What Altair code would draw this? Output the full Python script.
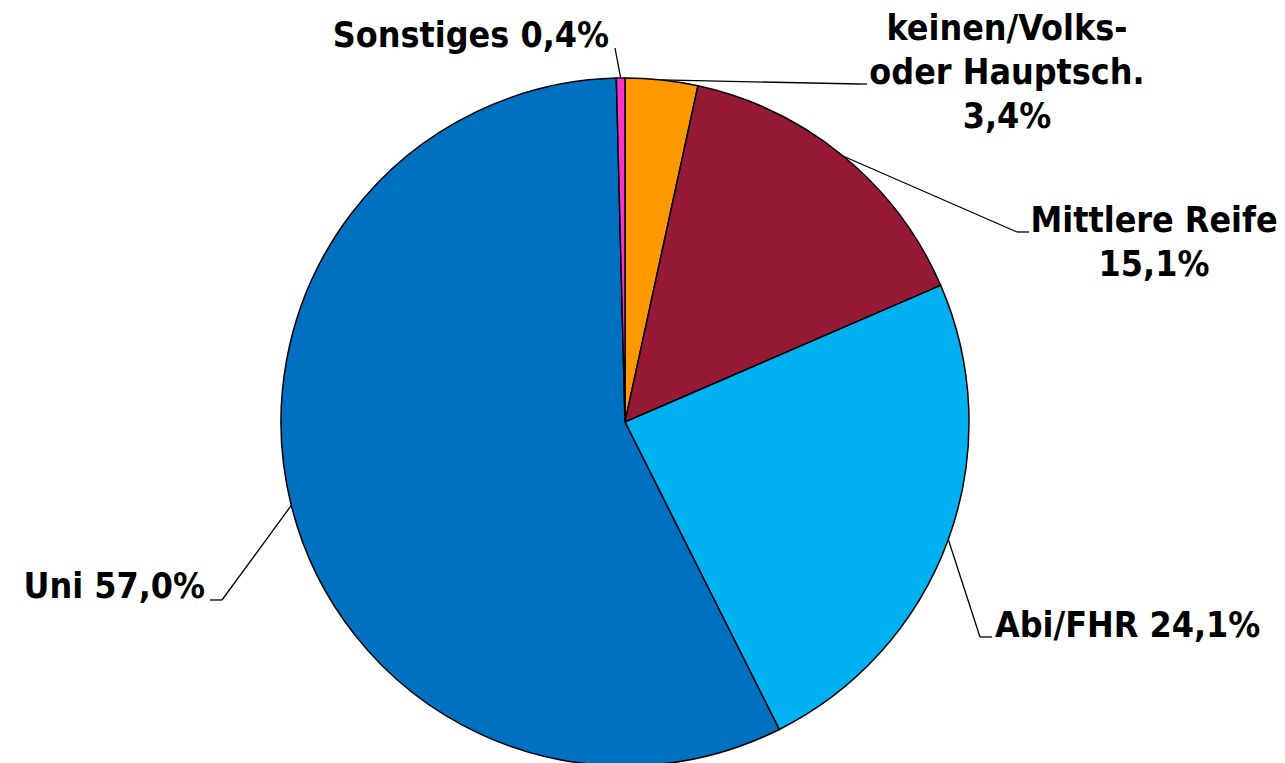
import altair as alt
import pandas as pd

# ---- data ----
names = ["keinen/Volks-\noder Hauptsch.", "Mittlere Reife", "Abi/FHR", "Uni", "Sonstiges"]
shares = [3.4, 15.1, 24.1, 57.0, 0.4]
sep = ["\n", "\n", " ", " ", " "]
colors = ["#FF9900", "#961A36", "#00B0F0", "#0070C0", "#FF33CC"]

# ---- label layout (page pixels) ----
label_x = [1007, 1154, 995, 205, 609]
label_y = [40, 232, 637, 598, 47]
label_align = ["center", "center", "left", "right", "right"]
elbow_x = [860, 1017, 980, 222, 615]
elbow_y = [84, 232, 637, 600, 48]
end_x = [867, 1029, 992, 210, 615]
end_y = [84, 232, 637, 600, 48]

W, H = 1269, 760
CX, CY, R = 625, 422, 344
FONT = "DejaVu Sans Condensed, Liberation Sans, sans-serif"

labels = [n + s + f"{v:.1f}".replace(".", ",") + "%" for n, s, v in zip(names, sep, shares)]
df = pd.DataFrame({
    "name": names, "share": shares, "order": list(range(len(names))), "label": labels,
    "lx": label_x, "ly": label_y, "align": label_align,
    "bx": elbow_x, "by": elbow_y, "ex": end_x, "ey": end_y,
})

xs = alt.Scale(domain=[8, 8 + W], range=[0, W])
ys = alt.Scale(domain=[8, 8 + H], range=[0, H])

base = alt.Chart(df)

pie = base.mark_arc(outerRadius=R, stroke="black", strokeWidth=1.5).encode(
    theta=alt.Theta("share:Q", stack=True),
    order=alt.Order("order:Q"),
    color=alt.Color("name:N", scale=alt.Scale(domain=names, range=colors), legend=None),
    x=alt.value(CX - 8), y=alt.value(CY - 8),
)

geo = base.transform_joinaggregate(total="sum(share)").transform_window(
    cum="sum(share)", sort=[alt.SortField("order")], frame=[None, 0]
).transform_calculate(
    mid="(datum.cum - datum.share/2) / datum.total * 2 * PI",
).transform_calculate(
    px=f"{CX} + {R} * sin(datum.mid)",
    py=f"{CY} - {R} * cos(datum.mid)",
)

lead1 = geo.mark_rule(color="black", strokeWidth=1.3).encode(
    x=alt.X("px:Q", scale=xs, axis=None), y=alt.Y("py:Q", scale=ys, axis=None),
    x2="bx:Q", y2="by:Q",
)
lead2 = base.mark_rule(color="black", strokeWidth=1.3).encode(
    x=alt.X("bx:Q", scale=xs, axis=None), y=alt.Y("by:Q", scale=ys, axis=None),
    x2="ex:Q", y2="ey:Q",
)

texts = []
for a in ["left", "center", "right"]:
    texts.append(
        base.transform_filter(alt.datum.align == a).mark_text(
            font=FONT, fontSize=35.5, fontWeight="bold", align=a, baseline="alphabetic",
            lineBreak="\n", lineHeight=44, color="black",
        ).encode(
            x=alt.X("lx:Q", scale=xs, axis=None), y=alt.Y("ly:Q", scale=ys, axis=None),
            text="label:N",
        )
    )

chart = alt.layer(pie, lead1, lead2, *texts).properties(
    width=W, height=H, autosize=alt.AutoSizeParams(type="none"), padding=0,
).configure_view(stroke=None)

chart.save("out.html", embed_options={"renderer": "svg", "actions": False})
